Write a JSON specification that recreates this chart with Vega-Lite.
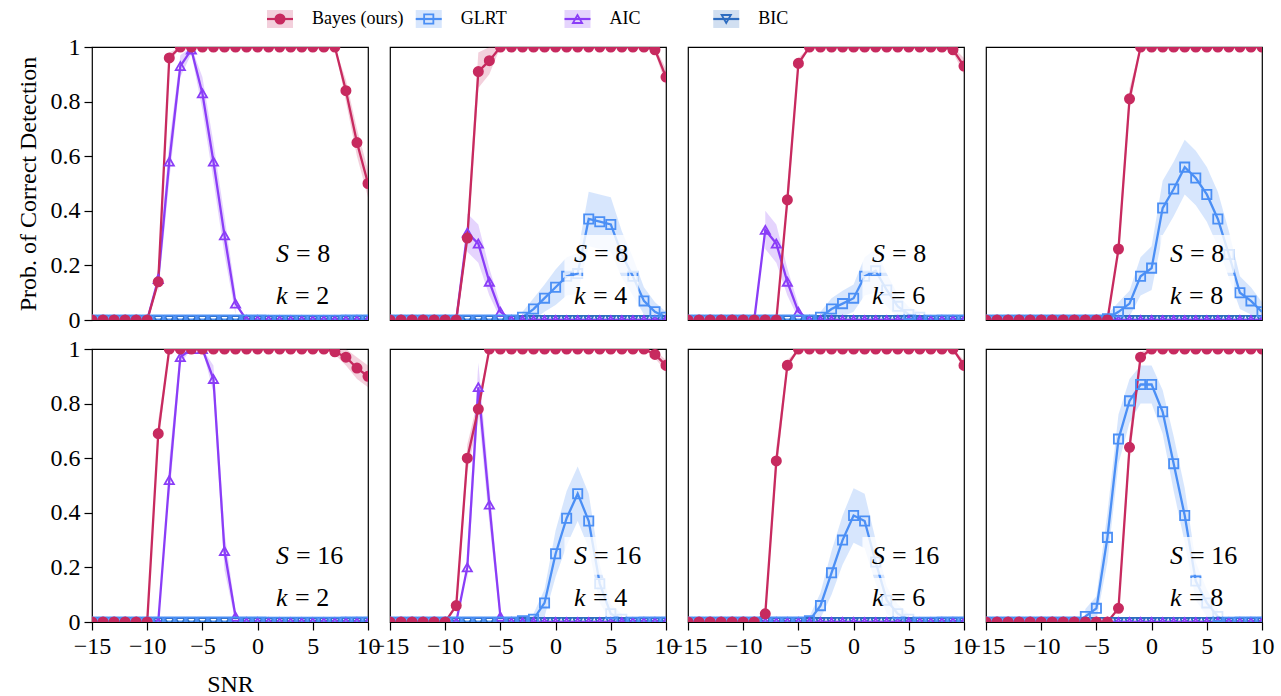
{
"$schema": "https://vega.github.io/schema/vega-lite/v6.json",
"padding": {"left": 15, "top": 6, "right": 5, "bottom": 0},
"bounds": "flush",
"spacing": 15,
"config": {
 "font": "Liberation Serif",
 "view": {"stroke": "#000", "strokeWidth": 1.2},
 "axis": {"domain": false, "grid": false, "labelFontSize": 24, "titleFontSize": 24, "titleFontWeight": "normal", "labelColor": "#000", "titleColor": "#000", "tickColor": "#000", "tickSize": 8, "tickWidth": 1.2, "labelPadding": 4, "labelFlush": false, "labelOverlap": false},
 "axisY": {"titlePadding": 10},
 "axisX": {"titlePadding": 14}
},
"data": {"values": [
{"S":8,"k":2,"m":"C","x":-15,"y":0},{"S":8,"k":2,"m":"C","x":-14,"y":0},{"S":8,"k":2,"m":"C","x":-13,"y":0},{"S":8,"k":2,"m":"C","x":-12,"y":0},{"S":8,"k":2,"m":"C","x":-11,"y":0},{"S":8,"k":2,"m":"C","x":-10,"y":0},{"S":8,"k":2,"m":"C","x":-9,"y":0},{"S":8,"k":2,"m":"C","x":-8,"y":0},{"S":8,"k":2,"m":"C","x":-7,"y":0},{"S":8,"k":2,"m":"C","x":-6,"y":0},{"S":8,"k":2,"m":"C","x":-5,"y":0},{"S":8,"k":2,"m":"C","x":-4,"y":0},{"S":8,"k":2,"m":"C","x":-3,"y":0},{"S":8,"k":2,"m":"C","x":-2,"y":0},{"S":8,"k":2,"m":"C","x":-1,"y":0},{"S":8,"k":2,"m":"C","x":0,"y":0},{"S":8,"k":2,"m":"C","x":1,"y":0},{"S":8,"k":2,"m":"C","x":2,"y":0},{"S":8,"k":2,"m":"C","x":3,"y":0},{"S":8,"k":2,"m":"C","x":4,"y":0},{"S":8,"k":2,"m":"C","x":5,"y":0},{"S":8,"k":2,"m":"C","x":6,"y":0},{"S":8,"k":2,"m":"C","x":7,"y":0},{"S":8,"k":2,"m":"C","x":8,"y":0},{"S":8,"k":2,"m":"C","x":9,"y":0},{"S":8,"k":2,"m":"C","x":10,"y":0},
{"S":8,"k":2,"m":"A","x":-15,"y":0},{"S":8,"k":2,"m":"A","x":-14,"y":0},{"S":8,"k":2,"m":"A","x":-13,"y":0},{"S":8,"k":2,"m":"A","x":-12,"y":0},{"S":8,"k":2,"m":"A","x":-11,"y":0},{"S":8,"k":2,"m":"A","x":-10,"y":0},{"S":8,"k":2,"m":"A","x":-9,"y":0.15,"lo":0.10,"hi":0.20},{"S":8,"k":2,"m":"A","x":-8,"y":0.58,"lo":0.51,"hi":0.65},{"S":8,"k":2,"m":"A","x":-7,"y":0.93,"lo":0.89,"hi":0.97},{"S":8,"k":2,"m":"A","x":-6,"y":0.99,"lo":0.975,"hi":1},{"S":8,"k":2,"m":"A","x":-5,"y":0.83,"lo":0.77,"hi":0.89},{"S":8,"k":2,"m":"A","x":-4,"y":0.58,"lo":0.51,"hi":0.65},{"S":8,"k":2,"m":"A","x":-3,"y":0.31,"lo":0.24,"hi":0.38},{"S":8,"k":2,"m":"A","x":-2,"y":0.06,"lo":0.02,"hi":0.10},{"S":8,"k":2,"m":"A","x":-1,"y":0},{"S":8,"k":2,"m":"A","x":0,"y":0},{"S":8,"k":2,"m":"A","x":1,"y":0},{"S":8,"k":2,"m":"A","x":2,"y":0},{"S":8,"k":2,"m":"A","x":3,"y":0},{"S":8,"k":2,"m":"A","x":4,"y":0},{"S":8,"k":2,"m":"A","x":5,"y":0},{"S":8,"k":2,"m":"A","x":6,"y":0},{"S":8,"k":2,"m":"A","x":7,"y":0},{"S":8,"k":2,"m":"A","x":8,"y":0},{"S":8,"k":2,"m":"A","x":9,"y":0},{"S":8,"k":2,"m":"A","x":10,"y":0},
{"S":8,"k":2,"m":"G","x":-15,"y":0},{"S":8,"k":2,"m":"G","x":-14,"y":0},{"S":8,"k":2,"m":"G","x":-13,"y":0},{"S":8,"k":2,"m":"G","x":-12,"y":0},{"S":8,"k":2,"m":"G","x":-11,"y":0},{"S":8,"k":2,"m":"G","x":-10,"y":0},{"S":8,"k":2,"m":"G","x":-9,"y":0},{"S":8,"k":2,"m":"G","x":-8,"y":0},{"S":8,"k":2,"m":"G","x":-7,"y":0},{"S":8,"k":2,"m":"G","x":-6,"y":0},{"S":8,"k":2,"m":"G","x":-5,"y":0},{"S":8,"k":2,"m":"G","x":-4,"y":0},{"S":8,"k":2,"m":"G","x":-3,"y":0},{"S":8,"k":2,"m":"G","x":-2,"y":0},{"S":8,"k":2,"m":"G","x":-1,"y":0},{"S":8,"k":2,"m":"G","x":0,"y":0},{"S":8,"k":2,"m":"G","x":1,"y":0},{"S":8,"k":2,"m":"G","x":2,"y":0},{"S":8,"k":2,"m":"G","x":3,"y":0},{"S":8,"k":2,"m":"G","x":4,"y":0},{"S":8,"k":2,"m":"G","x":5,"y":0},{"S":8,"k":2,"m":"G","x":6,"y":0},{"S":8,"k":2,"m":"G","x":7,"y":0},{"S":8,"k":2,"m":"G","x":8,"y":0},{"S":8,"k":2,"m":"G","x":9,"y":0},{"S":8,"k":2,"m":"G","x":10,"y":0},
{"S":8,"k":2,"m":"B","x":-15,"y":0},{"S":8,"k":2,"m":"B","x":-14,"y":0},{"S":8,"k":2,"m":"B","x":-13,"y":0},{"S":8,"k":2,"m":"B","x":-12,"y":0},{"S":8,"k":2,"m":"B","x":-11,"y":0},{"S":8,"k":2,"m":"B","x":-10,"y":0},{"S":8,"k":2,"m":"B","x":-9,"y":0.14,"lo":0.10,"hi":0.18},{"S":8,"k":2,"m":"B","x":-8,"y":0.96,"lo":0.94,"hi":0.98},{"S":8,"k":2,"m":"B","x":-7,"y":1,"lo":1,"hi":1},{"S":8,"k":2,"m":"B","x":-6,"y":1,"lo":1,"hi":1},{"S":8,"k":2,"m":"B","x":-5,"y":1,"lo":1,"hi":1},{"S":8,"k":2,"m":"B","x":-4,"y":1,"lo":1,"hi":1},{"S":8,"k":2,"m":"B","x":-3,"y":1,"lo":1,"hi":1},{"S":8,"k":2,"m":"B","x":-2,"y":1,"lo":1,"hi":1},{"S":8,"k":2,"m":"B","x":-1,"y":1,"lo":1,"hi":1},{"S":8,"k":2,"m":"B","x":0,"y":1,"lo":1,"hi":1},{"S":8,"k":2,"m":"B","x":1,"y":1,"lo":1,"hi":1},{"S":8,"k":2,"m":"B","x":2,"y":1,"lo":1,"hi":1},{"S":8,"k":2,"m":"B","x":3,"y":1,"lo":1,"hi":1},{"S":8,"k":2,"m":"B","x":4,"y":1,"lo":1,"hi":1},{"S":8,"k":2,"m":"B","x":5,"y":1,"lo":1,"hi":1},{"S":8,"k":2,"m":"B","x":6,"y":1,"lo":1,"hi":1},{"S":8,"k":2,"m":"B","x":7,"y":1,"lo":1,"hi":1},{"S":8,"k":2,"m":"B","x":8,"y":0.84,"lo":0.80,"hi":0.88},{"S":8,"k":2,"m":"B","x":9,"y":0.65,"lo":0.60,"hi":0.70},{"S":8,"k":2,"m":"B","x":10,"y":0.50,"lo":0.45,"hi":0.55},

{"S":8,"k":4,"m":"C","x":-15,"y":0},{"S":8,"k":4,"m":"C","x":-14,"y":0},{"S":8,"k":4,"m":"C","x":-13,"y":0},{"S":8,"k":4,"m":"C","x":-12,"y":0},{"S":8,"k":4,"m":"C","x":-11,"y":0},{"S":8,"k":4,"m":"C","x":-10,"y":0},{"S":8,"k":4,"m":"C","x":-9,"y":0},{"S":8,"k":4,"m":"C","x":-8,"y":0},{"S":8,"k":4,"m":"C","x":-7,"y":0},{"S":8,"k":4,"m":"C","x":-6,"y":0},{"S":8,"k":4,"m":"C","x":-5,"y":0},{"S":8,"k":4,"m":"C","x":-4,"y":0},{"S":8,"k":4,"m":"C","x":-3,"y":0},{"S":8,"k":4,"m":"C","x":-2,"y":0},{"S":8,"k":4,"m":"C","x":-1,"y":0},{"S":8,"k":4,"m":"C","x":0,"y":0},{"S":8,"k":4,"m":"C","x":1,"y":0},{"S":8,"k":4,"m":"C","x":2,"y":0},{"S":8,"k":4,"m":"C","x":3,"y":0},{"S":8,"k":4,"m":"C","x":4,"y":0},{"S":8,"k":4,"m":"C","x":5,"y":0},{"S":8,"k":4,"m":"C","x":6,"y":0},{"S":8,"k":4,"m":"C","x":7,"y":0},{"S":8,"k":4,"m":"C","x":8,"y":0},{"S":8,"k":4,"m":"C","x":9,"y":0},{"S":8,"k":4,"m":"C","x":10,"y":0},
{"S":8,"k":4,"m":"A","x":-15,"y":0},{"S":8,"k":4,"m":"A","x":-14,"y":0},{"S":8,"k":4,"m":"A","x":-13,"y":0},{"S":8,"k":4,"m":"A","x":-12,"y":0},{"S":8,"k":4,"m":"A","x":-11,"y":0},{"S":8,"k":4,"m":"A","x":-10,"y":0},{"S":8,"k":4,"m":"A","x":-9,"y":0},{"S":8,"k":4,"m":"A","x":-8,"y":0.32,"lo":0.25,"hi":0.39},{"S":8,"k":4,"m":"A","x":-7,"y":0.28,"lo":0.21,"hi":0.35},{"S":8,"k":4,"m":"A","x":-6,"y":0.14,"lo":0.09,"hi":0.19},{"S":8,"k":4,"m":"A","x":-5,"y":0.03,"lo":0.005,"hi":0.055},{"S":8,"k":4,"m":"A","x":-4,"y":0},{"S":8,"k":4,"m":"A","x":-3,"y":0},{"S":8,"k":4,"m":"A","x":-2,"y":0},{"S":8,"k":4,"m":"A","x":-1,"y":0},{"S":8,"k":4,"m":"A","x":0,"y":0},{"S":8,"k":4,"m":"A","x":1,"y":0},{"S":8,"k":4,"m":"A","x":2,"y":0},{"S":8,"k":4,"m":"A","x":3,"y":0},{"S":8,"k":4,"m":"A","x":4,"y":0},{"S":8,"k":4,"m":"A","x":5,"y":0},{"S":8,"k":4,"m":"A","x":6,"y":0},{"S":8,"k":4,"m":"A","x":7,"y":0},{"S":8,"k":4,"m":"A","x":8,"y":0},{"S":8,"k":4,"m":"A","x":9,"y":0},{"S":8,"k":4,"m":"A","x":10,"y":0},
{"S":8,"k":4,"m":"G","x":-15,"y":0},{"S":8,"k":4,"m":"G","x":-14,"y":0},{"S":8,"k":4,"m":"G","x":-13,"y":0},{"S":8,"k":4,"m":"G","x":-12,"y":0},{"S":8,"k":4,"m":"G","x":-11,"y":0},{"S":8,"k":4,"m":"G","x":-10,"y":0},{"S":8,"k":4,"m":"G","x":-9,"y":0},{"S":8,"k":4,"m":"G","x":-8,"y":0},{"S":8,"k":4,"m":"G","x":-7,"y":0},{"S":8,"k":4,"m":"G","x":-6,"y":0},{"S":8,"k":4,"m":"G","x":-5,"y":0},{"S":8,"k":4,"m":"G","x":-4,"y":0},{"S":8,"k":4,"m":"G","x":-3,"y":0.01,"lo":0,"hi":0.03},{"S":8,"k":4,"m":"G","x":-2,"y":0.04,"lo":0,"hi":0.08},{"S":8,"k":4,"m":"G","x":-1,"y":0.08,"lo":0.03,"hi":0.13},{"S":8,"k":4,"m":"G","x":0,"y":0.12,"lo":0.055,"hi":0.185},{"S":8,"k":4,"m":"G","x":1,"y":0.16,"lo":0.09,"hi":0.23},{"S":8,"k":4,"m":"G","x":2,"y":0.17,"lo":0.095,"hi":0.245},{"S":8,"k":4,"m":"G","x":3,"y":0.37,"lo":0.27,"hi":0.47},{"S":8,"k":4,"m":"G","x":4,"y":0.36,"lo":0.26,"hi":0.46},{"S":8,"k":4,"m":"G","x":5,"y":0.35,"lo":0.25,"hi":0.45},{"S":8,"k":4,"m":"G","x":6,"y":0.24,"lo":0.155,"hi":0.325},{"S":8,"k":4,"m":"G","x":7,"y":0.16,"lo":0.09,"hi":0.23},{"S":8,"k":4,"m":"G","x":8,"y":0.07,"lo":0.02,"hi":0.12},{"S":8,"k":4,"m":"G","x":9,"y":0.03,"lo":0,"hi":0.065},{"S":8,"k":4,"m":"G","x":10,"y":0.01,"lo":0,"hi":0.03},
{"S":8,"k":4,"m":"B","x":-15,"y":0},{"S":8,"k":4,"m":"B","x":-14,"y":0},{"S":8,"k":4,"m":"B","x":-13,"y":0},{"S":8,"k":4,"m":"B","x":-12,"y":0},{"S":8,"k":4,"m":"B","x":-11,"y":0},{"S":8,"k":4,"m":"B","x":-10,"y":0},{"S":8,"k":4,"m":"B","x":-9,"y":0},{"S":8,"k":4,"m":"B","x":-8,"y":0.30,"lo":0.25,"hi":0.35},{"S":8,"k":4,"m":"B","x":-7,"y":0.91,"lo":0.85,"hi":0.98},{"S":8,"k":4,"m":"B","x":-6,"y":0.95,"lo":0.90,"hi":1},{"S":8,"k":4,"m":"B","x":-5,"y":1,"lo":1,"hi":1},{"S":8,"k":4,"m":"B","x":-4,"y":1,"lo":1,"hi":1},{"S":8,"k":4,"m":"B","x":-3,"y":1,"lo":1,"hi":1},{"S":8,"k":4,"m":"B","x":-2,"y":1,"lo":1,"hi":1},{"S":8,"k":4,"m":"B","x":-1,"y":1,"lo":1,"hi":1},{"S":8,"k":4,"m":"B","x":0,"y":1,"lo":1,"hi":1},{"S":8,"k":4,"m":"B","x":1,"y":1,"lo":1,"hi":1},{"S":8,"k":4,"m":"B","x":2,"y":1,"lo":1,"hi":1},{"S":8,"k":4,"m":"B","x":3,"y":1,"lo":1,"hi":1},{"S":8,"k":4,"m":"B","x":4,"y":1,"lo":1,"hi":1},{"S":8,"k":4,"m":"B","x":5,"y":1,"lo":1,"hi":1},{"S":8,"k":4,"m":"B","x":6,"y":1,"lo":1,"hi":1},{"S":8,"k":4,"m":"B","x":7,"y":1,"lo":1,"hi":1},{"S":8,"k":4,"m":"B","x":8,"y":1,"lo":1,"hi":1},{"S":8,"k":4,"m":"B","x":9,"y":0.99,"lo":0.98,"hi":1},{"S":8,"k":4,"m":"B","x":10,"y":0.89,"lo":0.86,"hi":0.92},

{"S":8,"k":6,"m":"C","x":-15,"y":0},{"S":8,"k":6,"m":"C","x":-14,"y":0},{"S":8,"k":6,"m":"C","x":-13,"y":0},{"S":8,"k":6,"m":"C","x":-12,"y":0},{"S":8,"k":6,"m":"C","x":-11,"y":0},{"S":8,"k":6,"m":"C","x":-10,"y":0},{"S":8,"k":6,"m":"C","x":-9,"y":0},{"S":8,"k":6,"m":"C","x":-8,"y":0},{"S":8,"k":6,"m":"C","x":-7,"y":0},{"S":8,"k":6,"m":"C","x":-6,"y":0},{"S":8,"k":6,"m":"C","x":-5,"y":0},{"S":8,"k":6,"m":"C","x":-4,"y":0},{"S":8,"k":6,"m":"C","x":-3,"y":0},{"S":8,"k":6,"m":"C","x":-2,"y":0},{"S":8,"k":6,"m":"C","x":-1,"y":0},{"S":8,"k":6,"m":"C","x":0,"y":0},{"S":8,"k":6,"m":"C","x":1,"y":0},{"S":8,"k":6,"m":"C","x":2,"y":0},{"S":8,"k":6,"m":"C","x":3,"y":0},{"S":8,"k":6,"m":"C","x":4,"y":0},{"S":8,"k":6,"m":"C","x":5,"y":0},{"S":8,"k":6,"m":"C","x":6,"y":0},{"S":8,"k":6,"m":"C","x":7,"y":0},{"S":8,"k":6,"m":"C","x":8,"y":0},{"S":8,"k":6,"m":"C","x":9,"y":0},{"S":8,"k":6,"m":"C","x":10,"y":0},
{"S":8,"k":6,"m":"A","x":-15,"y":0},{"S":8,"k":6,"m":"A","x":-14,"y":0},{"S":8,"k":6,"m":"A","x":-13,"y":0},{"S":8,"k":6,"m":"A","x":-12,"y":0},{"S":8,"k":6,"m":"A","x":-11,"y":0},{"S":8,"k":6,"m":"A","x":-10,"y":0},{"S":8,"k":6,"m":"A","x":-9,"y":0},{"S":8,"k":6,"m":"A","x":-8,"y":0.33,"lo":0.26,"hi":0.40},{"S":8,"k":6,"m":"A","x":-7,"y":0.28,"lo":0.21,"hi":0.35},{"S":8,"k":6,"m":"A","x":-6,"y":0.14,"lo":0.09,"hi":0.19},{"S":8,"k":6,"m":"A","x":-5,"y":0.03,"lo":0.005,"hi":0.055},{"S":8,"k":6,"m":"A","x":-4,"y":0},{"S":8,"k":6,"m":"A","x":-3,"y":0},{"S":8,"k":6,"m":"A","x":-2,"y":0},{"S":8,"k":6,"m":"A","x":-1,"y":0},{"S":8,"k":6,"m":"A","x":0,"y":0},{"S":8,"k":6,"m":"A","x":1,"y":0},{"S":8,"k":6,"m":"A","x":2,"y":0},{"S":8,"k":6,"m":"A","x":3,"y":0},{"S":8,"k":6,"m":"A","x":4,"y":0},{"S":8,"k":6,"m":"A","x":5,"y":0},{"S":8,"k":6,"m":"A","x":6,"y":0},{"S":8,"k":6,"m":"A","x":7,"y":0},{"S":8,"k":6,"m":"A","x":8,"y":0},{"S":8,"k":6,"m":"A","x":9,"y":0},{"S":8,"k":6,"m":"A","x":10,"y":0},
{"S":8,"k":6,"m":"G","x":-15,"y":0},{"S":8,"k":6,"m":"G","x":-14,"y":0},{"S":8,"k":6,"m":"G","x":-13,"y":0},{"S":8,"k":6,"m":"G","x":-12,"y":0},{"S":8,"k":6,"m":"G","x":-11,"y":0},{"S":8,"k":6,"m":"G","x":-10,"y":0},{"S":8,"k":6,"m":"G","x":-9,"y":0},{"S":8,"k":6,"m":"G","x":-8,"y":0},{"S":8,"k":6,"m":"G","x":-7,"y":0},{"S":8,"k":6,"m":"G","x":-6,"y":0},{"S":8,"k":6,"m":"G","x":-5,"y":0},{"S":8,"k":6,"m":"G","x":-4,"y":0},{"S":8,"k":6,"m":"G","x":-3,"y":0.01,"lo":0,"hi":0.03},{"S":8,"k":6,"m":"G","x":-2,"y":0.04,"lo":0,"hi":0.08},{"S":8,"k":6,"m":"G","x":-1,"y":0.06,"lo":0.013,"hi":0.107},{"S":8,"k":6,"m":"G","x":0,"y":0.08,"lo":0.03,"hi":0.13},{"S":8,"k":6,"m":"G","x":1,"y":0.16,"lo":0.09,"hi":0.23},{"S":8,"k":6,"m":"G","x":2,"y":0.18,"lo":0.10,"hi":0.26},{"S":8,"k":6,"m":"G","x":3,"y":0.11,"lo":0.05,"hi":0.17},{"S":8,"k":6,"m":"G","x":4,"y":0.05,"lo":0.006,"hi":0.094},{"S":8,"k":6,"m":"G","x":5,"y":0.02,"lo":0,"hi":0.048},{"S":8,"k":6,"m":"G","x":6,"y":0.01,"lo":0,"hi":0.03},{"S":8,"k":6,"m":"G","x":7,"y":0},{"S":8,"k":6,"m":"G","x":8,"y":0},{"S":8,"k":6,"m":"G","x":9,"y":0},{"S":8,"k":6,"m":"G","x":10,"y":0},
{"S":8,"k":6,"m":"B","x":-15,"y":0},{"S":8,"k":6,"m":"B","x":-14,"y":0},{"S":8,"k":6,"m":"B","x":-13,"y":0},{"S":8,"k":6,"m":"B","x":-12,"y":0},{"S":8,"k":6,"m":"B","x":-11,"y":0},{"S":8,"k":6,"m":"B","x":-10,"y":0},{"S":8,"k":6,"m":"B","x":-9,"y":0},{"S":8,"k":6,"m":"B","x":-8,"y":0},{"S":8,"k":6,"m":"B","x":-7,"y":0},{"S":8,"k":6,"m":"B","x":-6,"y":0.44,"lo":0.39,"hi":0.49},{"S":8,"k":6,"m":"B","x":-5,"y":0.94,"lo":0.92,"hi":0.96},{"S":8,"k":6,"m":"B","x":-4,"y":1,"lo":1,"hi":1},{"S":8,"k":6,"m":"B","x":-3,"y":1,"lo":1,"hi":1},{"S":8,"k":6,"m":"B","x":-2,"y":1,"lo":1,"hi":1},{"S":8,"k":6,"m":"B","x":-1,"y":1,"lo":1,"hi":1},{"S":8,"k":6,"m":"B","x":0,"y":1,"lo":1,"hi":1},{"S":8,"k":6,"m":"B","x":1,"y":1,"lo":1,"hi":1},{"S":8,"k":6,"m":"B","x":2,"y":1,"lo":1,"hi":1},{"S":8,"k":6,"m":"B","x":3,"y":1,"lo":1,"hi":1},{"S":8,"k":6,"m":"B","x":4,"y":1,"lo":1,"hi":1},{"S":8,"k":6,"m":"B","x":5,"y":1,"lo":1,"hi":1},{"S":8,"k":6,"m":"B","x":6,"y":1,"lo":1,"hi":1},{"S":8,"k":6,"m":"B","x":7,"y":1,"lo":1,"hi":1},{"S":8,"k":6,"m":"B","x":8,"y":1,"lo":1,"hi":1},{"S":8,"k":6,"m":"B","x":9,"y":0.99,"lo":0.98,"hi":1},{"S":8,"k":6,"m":"B","x":10,"y":0.93,"lo":0.90,"hi":0.96},

{"S":8,"k":8,"m":"C","x":-15,"y":0},{"S":8,"k":8,"m":"C","x":-14,"y":0},{"S":8,"k":8,"m":"C","x":-13,"y":0},{"S":8,"k":8,"m":"C","x":-12,"y":0},{"S":8,"k":8,"m":"C","x":-11,"y":0},{"S":8,"k":8,"m":"C","x":-10,"y":0},{"S":8,"k":8,"m":"C","x":-9,"y":0},{"S":8,"k":8,"m":"C","x":-8,"y":0},{"S":8,"k":8,"m":"C","x":-7,"y":0},{"S":8,"k":8,"m":"C","x":-6,"y":0},{"S":8,"k":8,"m":"C","x":-5,"y":0},{"S":8,"k":8,"m":"C","x":-4,"y":0},{"S":8,"k":8,"m":"C","x":-3,"y":0},{"S":8,"k":8,"m":"C","x":-2,"y":0},{"S":8,"k":8,"m":"C","x":-1,"y":0},{"S":8,"k":8,"m":"C","x":0,"y":0},{"S":8,"k":8,"m":"C","x":1,"y":0},{"S":8,"k":8,"m":"C","x":2,"y":0},{"S":8,"k":8,"m":"C","x":3,"y":0},{"S":8,"k":8,"m":"C","x":4,"y":0},{"S":8,"k":8,"m":"C","x":5,"y":0},{"S":8,"k":8,"m":"C","x":6,"y":0},{"S":8,"k":8,"m":"C","x":7,"y":0},{"S":8,"k":8,"m":"C","x":8,"y":0},{"S":8,"k":8,"m":"C","x":9,"y":0},{"S":8,"k":8,"m":"C","x":10,"y":0},
{"S":8,"k":8,"m":"A","x":-15,"y":0},{"S":8,"k":8,"m":"A","x":-14,"y":0},{"S":8,"k":8,"m":"A","x":-13,"y":0},{"S":8,"k":8,"m":"A","x":-12,"y":0},{"S":8,"k":8,"m":"A","x":-11,"y":0},{"S":8,"k":8,"m":"A","x":-10,"y":0},{"S":8,"k":8,"m":"A","x":-9,"y":0},{"S":8,"k":8,"m":"A","x":-8,"y":0},{"S":8,"k":8,"m":"A","x":-7,"y":0},{"S":8,"k":8,"m":"A","x":-6,"y":0},{"S":8,"k":8,"m":"A","x":-5,"y":0},{"S":8,"k":8,"m":"A","x":-4,"y":0},{"S":8,"k":8,"m":"A","x":-3,"y":0},{"S":8,"k":8,"m":"A","x":-2,"y":0},{"S":8,"k":8,"m":"A","x":-1,"y":0},{"S":8,"k":8,"m":"A","x":0,"y":0},{"S":8,"k":8,"m":"A","x":1,"y":0},{"S":8,"k":8,"m":"A","x":2,"y":0},{"S":8,"k":8,"m":"A","x":3,"y":0},{"S":8,"k":8,"m":"A","x":4,"y":0},{"S":8,"k":8,"m":"A","x":5,"y":0},{"S":8,"k":8,"m":"A","x":6,"y":0},{"S":8,"k":8,"m":"A","x":7,"y":0},{"S":8,"k":8,"m":"A","x":8,"y":0},{"S":8,"k":8,"m":"A","x":9,"y":0},{"S":8,"k":8,"m":"A","x":10,"y":0},
{"S":8,"k":8,"m":"G","x":-15,"y":0},{"S":8,"k":8,"m":"G","x":-14,"y":0},{"S":8,"k":8,"m":"G","x":-13,"y":0},{"S":8,"k":8,"m":"G","x":-12,"y":0},{"S":8,"k":8,"m":"G","x":-11,"y":0},{"S":8,"k":8,"m":"G","x":-10,"y":0},{"S":8,"k":8,"m":"G","x":-9,"y":0},{"S":8,"k":8,"m":"G","x":-8,"y":0},{"S":8,"k":8,"m":"G","x":-7,"y":0},{"S":8,"k":8,"m":"G","x":-6,"y":0},{"S":8,"k":8,"m":"G","x":-5,"y":0},{"S":8,"k":8,"m":"G","x":-4,"y":0.005,"lo":0,"hi":0.02},{"S":8,"k":8,"m":"G","x":-3,"y":0.03,"lo":0,"hi":0.065},{"S":8,"k":8,"m":"G","x":-2,"y":0.06,"lo":0.013,"hi":0.107},{"S":8,"k":8,"m":"G","x":-1,"y":0.16,"lo":0.09,"hi":0.23},{"S":8,"k":8,"m":"G","x":0,"y":0.19,"lo":0.11,"hi":0.27},{"S":8,"k":8,"m":"G","x":1,"y":0.41,"lo":0.31,"hi":0.51},{"S":8,"k":8,"m":"G","x":2,"y":0.48,"lo":0.38,"hi":0.58},{"S":8,"k":8,"m":"G","x":3,"y":0.56,"lo":0.46,"hi":0.66},{"S":8,"k":8,"m":"G","x":4,"y":0.52,"lo":0.42,"hi":0.62},{"S":8,"k":8,"m":"G","x":5,"y":0.46,"lo":0.36,"hi":0.56},{"S":8,"k":8,"m":"G","x":6,"y":0.37,"lo":0.27,"hi":0.47},{"S":8,"k":8,"m":"G","x":7,"y":0.24,"lo":0.155,"hi":0.325},{"S":8,"k":8,"m":"G","x":8,"y":0.10,"lo":0.04,"hi":0.16},{"S":8,"k":8,"m":"G","x":9,"y":0.07,"lo":0.02,"hi":0.12},{"S":8,"k":8,"m":"G","x":10,"y":0.03,"lo":0,"hi":0.065},
{"S":8,"k":8,"m":"B","x":-15,"y":0},{"S":8,"k":8,"m":"B","x":-14,"y":0},{"S":8,"k":8,"m":"B","x":-13,"y":0},{"S":8,"k":8,"m":"B","x":-12,"y":0},{"S":8,"k":8,"m":"B","x":-11,"y":0},{"S":8,"k":8,"m":"B","x":-10,"y":0},{"S":8,"k":8,"m":"B","x":-9,"y":0},{"S":8,"k":8,"m":"B","x":-8,"y":0},{"S":8,"k":8,"m":"B","x":-7,"y":0},{"S":8,"k":8,"m":"B","x":-6,"y":0},{"S":8,"k":8,"m":"B","x":-5,"y":0},{"S":8,"k":8,"m":"B","x":-4,"y":0},{"S":8,"k":8,"m":"B","x":-3,"y":0.26,"lo":0.22,"hi":0.30},{"S":8,"k":8,"m":"B","x":-2,"y":0.81,"lo":0.77,"hi":0.85},{"S":8,"k":8,"m":"B","x":-1,"y":1,"lo":1,"hi":1},{"S":8,"k":8,"m":"B","x":0,"y":1,"lo":1,"hi":1},{"S":8,"k":8,"m":"B","x":1,"y":1,"lo":1,"hi":1},{"S":8,"k":8,"m":"B","x":2,"y":1,"lo":1,"hi":1},{"S":8,"k":8,"m":"B","x":3,"y":1,"lo":1,"hi":1},{"S":8,"k":8,"m":"B","x":4,"y":1,"lo":1,"hi":1},{"S":8,"k":8,"m":"B","x":5,"y":1,"lo":1,"hi":1},{"S":8,"k":8,"m":"B","x":6,"y":1,"lo":1,"hi":1},{"S":8,"k":8,"m":"B","x":7,"y":1,"lo":1,"hi":1},{"S":8,"k":8,"m":"B","x":8,"y":1,"lo":1,"hi":1},{"S":8,"k":8,"m":"B","x":9,"y":1,"lo":1,"hi":1},{"S":8,"k":8,"m":"B","x":10,"y":1,"lo":1,"hi":1},

{"S":16,"k":2,"m":"C","x":-15,"y":0},{"S":16,"k":2,"m":"C","x":-14,"y":0},{"S":16,"k":2,"m":"C","x":-13,"y":0},{"S":16,"k":2,"m":"C","x":-12,"y":0},{"S":16,"k":2,"m":"C","x":-11,"y":0},{"S":16,"k":2,"m":"C","x":-10,"y":0},{"S":16,"k":2,"m":"C","x":-9,"y":0},{"S":16,"k":2,"m":"C","x":-8,"y":0},{"S":16,"k":2,"m":"C","x":-7,"y":0},{"S":16,"k":2,"m":"C","x":-6,"y":0},{"S":16,"k":2,"m":"C","x":-5,"y":0},{"S":16,"k":2,"m":"C","x":-4,"y":0},{"S":16,"k":2,"m":"C","x":-3,"y":0},{"S":16,"k":2,"m":"C","x":-2,"y":0},{"S":16,"k":2,"m":"C","x":-1,"y":0},{"S":16,"k":2,"m":"C","x":0,"y":0},{"S":16,"k":2,"m":"C","x":1,"y":0},{"S":16,"k":2,"m":"C","x":2,"y":0},{"S":16,"k":2,"m":"C","x":3,"y":0},{"S":16,"k":2,"m":"C","x":4,"y":0},{"S":16,"k":2,"m":"C","x":5,"y":0},{"S":16,"k":2,"m":"C","x":6,"y":0},{"S":16,"k":2,"m":"C","x":7,"y":0},{"S":16,"k":2,"m":"C","x":8,"y":0},{"S":16,"k":2,"m":"C","x":9,"y":0},{"S":16,"k":2,"m":"C","x":10,"y":0},
{"S":16,"k":2,"m":"A","x":-15,"y":0},{"S":16,"k":2,"m":"A","x":-14,"y":0},{"S":16,"k":2,"m":"A","x":-13,"y":0},{"S":16,"k":2,"m":"A","x":-12,"y":0},{"S":16,"k":2,"m":"A","x":-11,"y":0},{"S":16,"k":2,"m":"A","x":-10,"y":0},{"S":16,"k":2,"m":"A","x":-9,"y":0},{"S":16,"k":2,"m":"A","x":-8,"y":0.52,"lo":0.445,"hi":0.595},{"S":16,"k":2,"m":"A","x":-7,"y":0.97,"lo":0.945,"hi":0.995},{"S":16,"k":2,"m":"A","x":-6,"y":1,"lo":1,"hi":1},{"S":16,"k":2,"m":"A","x":-5,"y":1,"lo":1,"hi":1},{"S":16,"k":2,"m":"A","x":-4,"y":0.89,"lo":0.84,"hi":0.94},{"S":16,"k":2,"m":"A","x":-3,"y":0.26,"lo":0.19,"hi":0.33},{"S":16,"k":2,"m":"A","x":-2,"y":0.02,"lo":0,"hi":0.04},{"S":16,"k":2,"m":"A","x":-1,"y":0},{"S":16,"k":2,"m":"A","x":0,"y":0},{"S":16,"k":2,"m":"A","x":1,"y":0},{"S":16,"k":2,"m":"A","x":2,"y":0},{"S":16,"k":2,"m":"A","x":3,"y":0},{"S":16,"k":2,"m":"A","x":4,"y":0},{"S":16,"k":2,"m":"A","x":5,"y":0},{"S":16,"k":2,"m":"A","x":6,"y":0},{"S":16,"k":2,"m":"A","x":7,"y":0},{"S":16,"k":2,"m":"A","x":8,"y":0},{"S":16,"k":2,"m":"A","x":9,"y":0},{"S":16,"k":2,"m":"A","x":10,"y":0},
{"S":16,"k":2,"m":"G","x":-15,"y":0},{"S":16,"k":2,"m":"G","x":-14,"y":0},{"S":16,"k":2,"m":"G","x":-13,"y":0},{"S":16,"k":2,"m":"G","x":-12,"y":0},{"S":16,"k":2,"m":"G","x":-11,"y":0},{"S":16,"k":2,"m":"G","x":-10,"y":0},{"S":16,"k":2,"m":"G","x":-9,"y":0},{"S":16,"k":2,"m":"G","x":-8,"y":0},{"S":16,"k":2,"m":"G","x":-7,"y":0},{"S":16,"k":2,"m":"G","x":-6,"y":0},{"S":16,"k":2,"m":"G","x":-5,"y":0},{"S":16,"k":2,"m":"G","x":-4,"y":0},{"S":16,"k":2,"m":"G","x":-3,"y":0},{"S":16,"k":2,"m":"G","x":-2,"y":0},{"S":16,"k":2,"m":"G","x":-1,"y":0},{"S":16,"k":2,"m":"G","x":0,"y":0},{"S":16,"k":2,"m":"G","x":1,"y":0},{"S":16,"k":2,"m":"G","x":2,"y":0},{"S":16,"k":2,"m":"G","x":3,"y":0},{"S":16,"k":2,"m":"G","x":4,"y":0},{"S":16,"k":2,"m":"G","x":5,"y":0},{"S":16,"k":2,"m":"G","x":6,"y":0},{"S":16,"k":2,"m":"G","x":7,"y":0},{"S":16,"k":2,"m":"G","x":8,"y":0},{"S":16,"k":2,"m":"G","x":9,"y":0},{"S":16,"k":2,"m":"G","x":10,"y":0},
{"S":16,"k":2,"m":"B","x":-15,"y":0},{"S":16,"k":2,"m":"B","x":-14,"y":0},{"S":16,"k":2,"m":"B","x":-13,"y":0},{"S":16,"k":2,"m":"B","x":-12,"y":0},{"S":16,"k":2,"m":"B","x":-11,"y":0},{"S":16,"k":2,"m":"B","x":-10,"y":0},{"S":16,"k":2,"m":"B","x":-9,"y":0.69,"lo":0.64,"hi":0.74},{"S":16,"k":2,"m":"B","x":-8,"y":1,"lo":1,"hi":1},{"S":16,"k":2,"m":"B","x":-7,"y":1,"lo":1,"hi":1},{"S":16,"k":2,"m":"B","x":-6,"y":1,"lo":1,"hi":1},{"S":16,"k":2,"m":"B","x":-5,"y":1,"lo":1,"hi":1},{"S":16,"k":2,"m":"B","x":-4,"y":1,"lo":1,"hi":1},{"S":16,"k":2,"m":"B","x":-3,"y":1,"lo":1,"hi":1},{"S":16,"k":2,"m":"B","x":-2,"y":1,"lo":1,"hi":1},{"S":16,"k":2,"m":"B","x":-1,"y":1,"lo":1,"hi":1},{"S":16,"k":2,"m":"B","x":0,"y":1,"lo":1,"hi":1},{"S":16,"k":2,"m":"B","x":1,"y":1,"lo":1,"hi":1},{"S":16,"k":2,"m":"B","x":2,"y":1,"lo":1,"hi":1},{"S":16,"k":2,"m":"B","x":3,"y":1,"lo":1,"hi":1},{"S":16,"k":2,"m":"B","x":4,"y":1,"lo":1,"hi":1},{"S":16,"k":2,"m":"B","x":5,"y":1,"lo":1,"hi":1},{"S":16,"k":2,"m":"B","x":6,"y":1,"lo":1,"hi":1},{"S":16,"k":2,"m":"B","x":7,"y":0.99,"lo":0.98,"hi":1},{"S":16,"k":2,"m":"B","x":8,"y":0.97,"lo":0.94,"hi":1},{"S":16,"k":2,"m":"B","x":9,"y":0.93,"lo":0.89,"hi":0.97},{"S":16,"k":2,"m":"B","x":10,"y":0.90,"lo":0.86,"hi":0.94},

{"S":16,"k":4,"m":"C","x":-15,"y":0},{"S":16,"k":4,"m":"C","x":-14,"y":0},{"S":16,"k":4,"m":"C","x":-13,"y":0},{"S":16,"k":4,"m":"C","x":-12,"y":0},{"S":16,"k":4,"m":"C","x":-11,"y":0},{"S":16,"k":4,"m":"C","x":-10,"y":0},{"S":16,"k":4,"m":"C","x":-9,"y":0},{"S":16,"k":4,"m":"C","x":-8,"y":0},{"S":16,"k":4,"m":"C","x":-7,"y":0},{"S":16,"k":4,"m":"C","x":-6,"y":0},{"S":16,"k":4,"m":"C","x":-5,"y":0},{"S":16,"k":4,"m":"C","x":-4,"y":0},{"S":16,"k":4,"m":"C","x":-3,"y":0},{"S":16,"k":4,"m":"C","x":-2,"y":0},{"S":16,"k":4,"m":"C","x":-1,"y":0},{"S":16,"k":4,"m":"C","x":0,"y":0},{"S":16,"k":4,"m":"C","x":1,"y":0},{"S":16,"k":4,"m":"C","x":2,"y":0},{"S":16,"k":4,"m":"C","x":3,"y":0},{"S":16,"k":4,"m":"C","x":4,"y":0},{"S":16,"k":4,"m":"C","x":5,"y":0},{"S":16,"k":4,"m":"C","x":6,"y":0},{"S":16,"k":4,"m":"C","x":7,"y":0},{"S":16,"k":4,"m":"C","x":8,"y":0},{"S":16,"k":4,"m":"C","x":9,"y":0},{"S":16,"k":4,"m":"C","x":10,"y":0},
{"S":16,"k":4,"m":"A","x":-15,"y":0},{"S":16,"k":4,"m":"A","x":-14,"y":0},{"S":16,"k":4,"m":"A","x":-13,"y":0},{"S":16,"k":4,"m":"A","x":-12,"y":0},{"S":16,"k":4,"m":"A","x":-11,"y":0},{"S":16,"k":4,"m":"A","x":-10,"y":0},{"S":16,"k":4,"m":"A","x":-9,"y":0},{"S":16,"k":4,"m":"A","x":-8,"y":0.20,"lo":0.14,"hi":0.26},{"S":16,"k":4,"m":"A","x":-7,"y":0.86,"lo":0.78,"hi":0.95},{"S":16,"k":4,"m":"A","x":-6,"y":0.43,"lo":0.36,"hi":0.50},{"S":16,"k":4,"m":"A","x":-5,"y":0.02,"lo":0,"hi":0.04},{"S":16,"k":4,"m":"A","x":-4,"y":0},{"S":16,"k":4,"m":"A","x":-3,"y":0},{"S":16,"k":4,"m":"A","x":-2,"y":0},{"S":16,"k":4,"m":"A","x":-1,"y":0},{"S":16,"k":4,"m":"A","x":0,"y":0},{"S":16,"k":4,"m":"A","x":1,"y":0},{"S":16,"k":4,"m":"A","x":2,"y":0},{"S":16,"k":4,"m":"A","x":3,"y":0},{"S":16,"k":4,"m":"A","x":4,"y":0},{"S":16,"k":4,"m":"A","x":5,"y":0},{"S":16,"k":4,"m":"A","x":6,"y":0},{"S":16,"k":4,"m":"A","x":7,"y":0},{"S":16,"k":4,"m":"A","x":8,"y":0},{"S":16,"k":4,"m":"A","x":9,"y":0},{"S":16,"k":4,"m":"A","x":10,"y":0},
{"S":16,"k":4,"m":"G","x":-15,"y":0},{"S":16,"k":4,"m":"G","x":-14,"y":0},{"S":16,"k":4,"m":"G","x":-13,"y":0},{"S":16,"k":4,"m":"G","x":-12,"y":0},{"S":16,"k":4,"m":"G","x":-11,"y":0},{"S":16,"k":4,"m":"G","x":-10,"y":0},{"S":16,"k":4,"m":"G","x":-9,"y":0},{"S":16,"k":4,"m":"G","x":-8,"y":0},{"S":16,"k":4,"m":"G","x":-7,"y":0},{"S":16,"k":4,"m":"G","x":-6,"y":0},{"S":16,"k":4,"m":"G","x":-5,"y":0},{"S":16,"k":4,"m":"G","x":-4,"y":0},{"S":16,"k":4,"m":"G","x":-3,"y":0.005,"lo":0,"hi":0.02},{"S":16,"k":4,"m":"G","x":-2,"y":0.01,"lo":0,"hi":0.03},{"S":16,"k":4,"m":"G","x":-1,"y":0.07,"lo":0.02,"hi":0.12},{"S":16,"k":4,"m":"G","x":0,"y":0.25,"lo":0.165,"hi":0.335},{"S":16,"k":4,"m":"G","x":1,"y":0.38,"lo":0.28,"hi":0.48},{"S":16,"k":4,"m":"G","x":2,"y":0.47,"lo":0.37,"hi":0.57},{"S":16,"k":4,"m":"G","x":3,"y":0.37,"lo":0.27,"hi":0.47},{"S":16,"k":4,"m":"G","x":4,"y":0.14,"lo":0.07,"hi":0.21},{"S":16,"k":4,"m":"G","x":5,"y":0.03,"lo":0,"hi":0.065},{"S":16,"k":4,"m":"G","x":6,"y":0.01,"lo":0,"hi":0.03},{"S":16,"k":4,"m":"G","x":7,"y":0},{"S":16,"k":4,"m":"G","x":8,"y":0},{"S":16,"k":4,"m":"G","x":9,"y":0},{"S":16,"k":4,"m":"G","x":10,"y":0},
{"S":16,"k":4,"m":"B","x":-15,"y":0},{"S":16,"k":4,"m":"B","x":-14,"y":0},{"S":16,"k":4,"m":"B","x":-13,"y":0},{"S":16,"k":4,"m":"B","x":-12,"y":0},{"S":16,"k":4,"m":"B","x":-11,"y":0},{"S":16,"k":4,"m":"B","x":-10,"y":0},{"S":16,"k":4,"m":"B","x":-9,"y":0.06,"lo":0.035,"hi":0.085},{"S":16,"k":4,"m":"B","x":-8,"y":0.60,"lo":0.55,"hi":0.65},{"S":16,"k":4,"m":"B","x":-7,"y":0.78,"lo":0.74,"hi":0.82},{"S":16,"k":4,"m":"B","x":-6,"y":1,"lo":1,"hi":1},{"S":16,"k":4,"m":"B","x":-5,"y":1,"lo":1,"hi":1},{"S":16,"k":4,"m":"B","x":-4,"y":1,"lo":1,"hi":1},{"S":16,"k":4,"m":"B","x":-3,"y":1,"lo":1,"hi":1},{"S":16,"k":4,"m":"B","x":-2,"y":1,"lo":1,"hi":1},{"S":16,"k":4,"m":"B","x":-1,"y":1,"lo":1,"hi":1},{"S":16,"k":4,"m":"B","x":0,"y":1,"lo":1,"hi":1},{"S":16,"k":4,"m":"B","x":1,"y":1,"lo":1,"hi":1},{"S":16,"k":4,"m":"B","x":2,"y":1,"lo":1,"hi":1},{"S":16,"k":4,"m":"B","x":3,"y":1,"lo":1,"hi":1},{"S":16,"k":4,"m":"B","x":4,"y":1,"lo":1,"hi":1},{"S":16,"k":4,"m":"B","x":5,"y":1,"lo":1,"hi":1},{"S":16,"k":4,"m":"B","x":6,"y":1,"lo":1,"hi":1},{"S":16,"k":4,"m":"B","x":7,"y":1,"lo":1,"hi":1},{"S":16,"k":4,"m":"B","x":8,"y":1,"lo":1,"hi":1},{"S":16,"k":4,"m":"B","x":9,"y":0.98,"lo":0.965,"hi":0.995},{"S":16,"k":4,"m":"B","x":10,"y":0.94,"lo":0.92,"hi":0.96},

{"S":16,"k":6,"m":"C","x":-15,"y":0},{"S":16,"k":6,"m":"C","x":-14,"y":0},{"S":16,"k":6,"m":"C","x":-13,"y":0},{"S":16,"k":6,"m":"C","x":-12,"y":0},{"S":16,"k":6,"m":"C","x":-11,"y":0},{"S":16,"k":6,"m":"C","x":-10,"y":0},{"S":16,"k":6,"m":"C","x":-9,"y":0},{"S":16,"k":6,"m":"C","x":-8,"y":0},{"S":16,"k":6,"m":"C","x":-7,"y":0},{"S":16,"k":6,"m":"C","x":-6,"y":0},{"S":16,"k":6,"m":"C","x":-5,"y":0},{"S":16,"k":6,"m":"C","x":-4,"y":0},{"S":16,"k":6,"m":"C","x":-3,"y":0},{"S":16,"k":6,"m":"C","x":-2,"y":0},{"S":16,"k":6,"m":"C","x":-1,"y":0},{"S":16,"k":6,"m":"C","x":0,"y":0},{"S":16,"k":6,"m":"C","x":1,"y":0},{"S":16,"k":6,"m":"C","x":2,"y":0},{"S":16,"k":6,"m":"C","x":3,"y":0},{"S":16,"k":6,"m":"C","x":4,"y":0},{"S":16,"k":6,"m":"C","x":5,"y":0},{"S":16,"k":6,"m":"C","x":6,"y":0},{"S":16,"k":6,"m":"C","x":7,"y":0},{"S":16,"k":6,"m":"C","x":8,"y":0},{"S":16,"k":6,"m":"C","x":9,"y":0},{"S":16,"k":6,"m":"C","x":10,"y":0},
{"S":16,"k":6,"m":"A","x":-15,"y":0},{"S":16,"k":6,"m":"A","x":-14,"y":0},{"S":16,"k":6,"m":"A","x":-13,"y":0},{"S":16,"k":6,"m":"A","x":-12,"y":0},{"S":16,"k":6,"m":"A","x":-11,"y":0},{"S":16,"k":6,"m":"A","x":-10,"y":0},{"S":16,"k":6,"m":"A","x":-9,"y":0},{"S":16,"k":6,"m":"A","x":-8,"y":0},{"S":16,"k":6,"m":"A","x":-7,"y":0},{"S":16,"k":6,"m":"A","x":-6,"y":0},{"S":16,"k":6,"m":"A","x":-5,"y":0},{"S":16,"k":6,"m":"A","x":-4,"y":0},{"S":16,"k":6,"m":"A","x":-3,"y":0},{"S":16,"k":6,"m":"A","x":-2,"y":0},{"S":16,"k":6,"m":"A","x":-1,"y":0},{"S":16,"k":6,"m":"A","x":0,"y":0},{"S":16,"k":6,"m":"A","x":1,"y":0},{"S":16,"k":6,"m":"A","x":2,"y":0},{"S":16,"k":6,"m":"A","x":3,"y":0},{"S":16,"k":6,"m":"A","x":4,"y":0},{"S":16,"k":6,"m":"A","x":5,"y":0},{"S":16,"k":6,"m":"A","x":6,"y":0},{"S":16,"k":6,"m":"A","x":7,"y":0},{"S":16,"k":6,"m":"A","x":8,"y":0},{"S":16,"k":6,"m":"A","x":9,"y":0},{"S":16,"k":6,"m":"A","x":10,"y":0},
{"S":16,"k":6,"m":"G","x":-15,"y":0},{"S":16,"k":6,"m":"G","x":-14,"y":0},{"S":16,"k":6,"m":"G","x":-13,"y":0},{"S":16,"k":6,"m":"G","x":-12,"y":0},{"S":16,"k":6,"m":"G","x":-11,"y":0},{"S":16,"k":6,"m":"G","x":-10,"y":0},{"S":16,"k":6,"m":"G","x":-9,"y":0},{"S":16,"k":6,"m":"G","x":-8,"y":0},{"S":16,"k":6,"m":"G","x":-7,"y":0},{"S":16,"k":6,"m":"G","x":-6,"y":0},{"S":16,"k":6,"m":"G","x":-5,"y":0},{"S":16,"k":6,"m":"G","x":-4,"y":0.005,"lo":0,"hi":0.02},{"S":16,"k":6,"m":"G","x":-3,"y":0.06,"lo":0.013,"hi":0.107},{"S":16,"k":6,"m":"G","x":-2,"y":0.18,"lo":0.10,"hi":0.26},{"S":16,"k":6,"m":"G","x":-1,"y":0.30,"lo":0.21,"hi":0.39},{"S":16,"k":6,"m":"G","x":0,"y":0.39,"lo":0.29,"hi":0.49},{"S":16,"k":6,"m":"G","x":1,"y":0.37,"lo":0.27,"hi":0.47},{"S":16,"k":6,"m":"G","x":2,"y":0.22,"lo":0.14,"hi":0.30},{"S":16,"k":6,"m":"G","x":3,"y":0.08,"lo":0.03,"hi":0.13},{"S":16,"k":6,"m":"G","x":4,"y":0.03,"lo":0,"hi":0.065},{"S":16,"k":6,"m":"G","x":5,"y":0.01,"lo":0,"hi":0.03},{"S":16,"k":6,"m":"G","x":6,"y":0},{"S":16,"k":6,"m":"G","x":7,"y":0},{"S":16,"k":6,"m":"G","x":8,"y":0},{"S":16,"k":6,"m":"G","x":9,"y":0},{"S":16,"k":6,"m":"G","x":10,"y":0},
{"S":16,"k":6,"m":"B","x":-15,"y":0},{"S":16,"k":6,"m":"B","x":-14,"y":0},{"S":16,"k":6,"m":"B","x":-13,"y":0},{"S":16,"k":6,"m":"B","x":-12,"y":0},{"S":16,"k":6,"m":"B","x":-11,"y":0},{"S":16,"k":6,"m":"B","x":-10,"y":0},{"S":16,"k":6,"m":"B","x":-9,"y":0},{"S":16,"k":6,"m":"B","x":-8,"y":0.03,"lo":0.013,"hi":0.047},{"S":16,"k":6,"m":"B","x":-7,"y":0.59,"lo":0.54,"hi":0.64},{"S":16,"k":6,"m":"B","x":-6,"y":0.94,"lo":0.92,"hi":0.96},{"S":16,"k":6,"m":"B","x":-5,"y":1,"lo":1,"hi":1},{"S":16,"k":6,"m":"B","x":-4,"y":1,"lo":1,"hi":1},{"S":16,"k":6,"m":"B","x":-3,"y":1,"lo":1,"hi":1},{"S":16,"k":6,"m":"B","x":-2,"y":1,"lo":1,"hi":1},{"S":16,"k":6,"m":"B","x":-1,"y":1,"lo":1,"hi":1},{"S":16,"k":6,"m":"B","x":0,"y":1,"lo":1,"hi":1},{"S":16,"k":6,"m":"B","x":1,"y":1,"lo":1,"hi":1},{"S":16,"k":6,"m":"B","x":2,"y":1,"lo":1,"hi":1},{"S":16,"k":6,"m":"B","x":3,"y":1,"lo":1,"hi":1},{"S":16,"k":6,"m":"B","x":4,"y":1,"lo":1,"hi":1},{"S":16,"k":6,"m":"B","x":5,"y":1,"lo":1,"hi":1},{"S":16,"k":6,"m":"B","x":6,"y":1,"lo":1,"hi":1},{"S":16,"k":6,"m":"B","x":7,"y":1,"lo":1,"hi":1},{"S":16,"k":6,"m":"B","x":8,"y":1,"lo":1,"hi":1},{"S":16,"k":6,"m":"B","x":9,"y":1,"lo":1,"hi":1},{"S":16,"k":6,"m":"B","x":10,"y":0.94,"lo":0.92,"hi":0.96},

{"S":16,"k":8,"m":"C","x":-15,"y":0},{"S":16,"k":8,"m":"C","x":-14,"y":0},{"S":16,"k":8,"m":"C","x":-13,"y":0},{"S":16,"k":8,"m":"C","x":-12,"y":0},{"S":16,"k":8,"m":"C","x":-11,"y":0},{"S":16,"k":8,"m":"C","x":-10,"y":0},{"S":16,"k":8,"m":"C","x":-9,"y":0},{"S":16,"k":8,"m":"C","x":-8,"y":0},{"S":16,"k":8,"m":"C","x":-7,"y":0},{"S":16,"k":8,"m":"C","x":-6,"y":0},{"S":16,"k":8,"m":"C","x":-5,"y":0},{"S":16,"k":8,"m":"C","x":-4,"y":0},{"S":16,"k":8,"m":"C","x":-3,"y":0},{"S":16,"k":8,"m":"C","x":-2,"y":0},{"S":16,"k":8,"m":"C","x":-1,"y":0},{"S":16,"k":8,"m":"C","x":0,"y":0},{"S":16,"k":8,"m":"C","x":1,"y":0},{"S":16,"k":8,"m":"C","x":2,"y":0},{"S":16,"k":8,"m":"C","x":3,"y":0},{"S":16,"k":8,"m":"C","x":4,"y":0},{"S":16,"k":8,"m":"C","x":5,"y":0},{"S":16,"k":8,"m":"C","x":6,"y":0},{"S":16,"k":8,"m":"C","x":7,"y":0},{"S":16,"k":8,"m":"C","x":8,"y":0},{"S":16,"k":8,"m":"C","x":9,"y":0},{"S":16,"k":8,"m":"C","x":10,"y":0},
{"S":16,"k":8,"m":"A","x":-15,"y":0},{"S":16,"k":8,"m":"A","x":-14,"y":0},{"S":16,"k":8,"m":"A","x":-13,"y":0},{"S":16,"k":8,"m":"A","x":-12,"y":0},{"S":16,"k":8,"m":"A","x":-11,"y":0},{"S":16,"k":8,"m":"A","x":-10,"y":0},{"S":16,"k":8,"m":"A","x":-9,"y":0},{"S":16,"k":8,"m":"A","x":-8,"y":0},{"S":16,"k":8,"m":"A","x":-7,"y":0},{"S":16,"k":8,"m":"A","x":-6,"y":0},{"S":16,"k":8,"m":"A","x":-5,"y":0},{"S":16,"k":8,"m":"A","x":-4,"y":0},{"S":16,"k":8,"m":"A","x":-3,"y":0},{"S":16,"k":8,"m":"A","x":-2,"y":0},{"S":16,"k":8,"m":"A","x":-1,"y":0},{"S":16,"k":8,"m":"A","x":0,"y":0},{"S":16,"k":8,"m":"A","x":1,"y":0},{"S":16,"k":8,"m":"A","x":2,"y":0},{"S":16,"k":8,"m":"A","x":3,"y":0},{"S":16,"k":8,"m":"A","x":4,"y":0},{"S":16,"k":8,"m":"A","x":5,"y":0},{"S":16,"k":8,"m":"A","x":6,"y":0},{"S":16,"k":8,"m":"A","x":7,"y":0},{"S":16,"k":8,"m":"A","x":8,"y":0},{"S":16,"k":8,"m":"A","x":9,"y":0},{"S":16,"k":8,"m":"A","x":10,"y":0},
{"S":16,"k":8,"m":"G","x":-15,"y":0},{"S":16,"k":8,"m":"G","x":-14,"y":0},{"S":16,"k":8,"m":"G","x":-13,"y":0},{"S":16,"k":8,"m":"G","x":-12,"y":0},{"S":16,"k":8,"m":"G","x":-11,"y":0},{"S":16,"k":8,"m":"G","x":-10,"y":0},{"S":16,"k":8,"m":"G","x":-9,"y":0},{"S":16,"k":8,"m":"G","x":-8,"y":0},{"S":16,"k":8,"m":"G","x":-7,"y":0},{"S":16,"k":8,"m":"G","x":-6,"y":0.02,"lo":0,"hi":0.048},{"S":16,"k":8,"m":"G","x":-5,"y":0.05,"lo":0.006,"hi":0.094},{"S":16,"k":8,"m":"G","x":-4,"y":0.31,"lo":0.22,"hi":0.40},{"S":16,"k":8,"m":"G","x":-3,"y":0.67,"lo":0.58,"hi":0.76},{"S":16,"k":8,"m":"G","x":-2,"y":0.81,"lo":0.73,"hi":0.89},{"S":16,"k":8,"m":"G","x":-1,"y":0.87,"lo":0.80,"hi":0.94},{"S":16,"k":8,"m":"G","x":0,"y":0.87,"lo":0.80,"hi":0.94},{"S":16,"k":8,"m":"G","x":1,"y":0.77,"lo":0.69,"hi":0.85},{"S":16,"k":8,"m":"G","x":2,"y":0.58,"lo":0.48,"hi":0.68},{"S":16,"k":8,"m":"G","x":3,"y":0.39,"lo":0.29,"hi":0.49},{"S":16,"k":8,"m":"G","x":4,"y":0.15,"lo":0.08,"hi":0.22},{"S":16,"k":8,"m":"G","x":5,"y":0.07,"lo":0.02,"hi":0.12},{"S":16,"k":8,"m":"G","x":6,"y":0.02,"lo":0,"hi":0.048},{"S":16,"k":8,"m":"G","x":7,"y":0},{"S":16,"k":8,"m":"G","x":8,"y":0},{"S":16,"k":8,"m":"G","x":9,"y":0},{"S":16,"k":8,"m":"G","x":10,"y":0},
{"S":16,"k":8,"m":"B","x":-15,"y":0},{"S":16,"k":8,"m":"B","x":-14,"y":0},{"S":16,"k":8,"m":"B","x":-13,"y":0},{"S":16,"k":8,"m":"B","x":-12,"y":0},{"S":16,"k":8,"m":"B","x":-11,"y":0},{"S":16,"k":8,"m":"B","x":-10,"y":0},{"S":16,"k":8,"m":"B","x":-9,"y":0},{"S":16,"k":8,"m":"B","x":-8,"y":0},{"S":16,"k":8,"m":"B","x":-7,"y":0},{"S":16,"k":8,"m":"B","x":-6,"y":0},{"S":16,"k":8,"m":"B","x":-5,"y":0},{"S":16,"k":8,"m":"B","x":-4,"y":0},{"S":16,"k":8,"m":"B","x":-3,"y":0.05,"lo":0.03,"hi":0.07},{"S":16,"k":8,"m":"B","x":-2,"y":0.64,"lo":0.59,"hi":0.69},{"S":16,"k":8,"m":"B","x":-1,"y":0.97,"lo":0.95,"hi":0.99},{"S":16,"k":8,"m":"B","x":0,"y":1,"lo":1,"hi":1},{"S":16,"k":8,"m":"B","x":1,"y":1,"lo":1,"hi":1},{"S":16,"k":8,"m":"B","x":2,"y":1,"lo":1,"hi":1},{"S":16,"k":8,"m":"B","x":3,"y":1,"lo":1,"hi":1},{"S":16,"k":8,"m":"B","x":4,"y":1,"lo":1,"hi":1},{"S":16,"k":8,"m":"B","x":5,"y":1,"lo":1,"hi":1},{"S":16,"k":8,"m":"B","x":6,"y":1,"lo":1,"hi":1},{"S":16,"k":8,"m":"B","x":7,"y":1,"lo":1,"hi":1},{"S":16,"k":8,"m":"B","x":8,"y":1,"lo":1,"hi":1},{"S":16,"k":8,"m":"B","x":9,"y":1,"lo":1,"hi":1},{"S":16,"k":8,"m":"B","x":10,"y":1,"lo":1,"hi":1}
]},
"vconcat": [
 {"width": 1170, "height": 26, "view": {"stroke": null},
  "data": {"values": [{"m":"B","name":"Bayes (ours)"},{"m":"G","name":"GLRT"},{"m":"A","name":"AIC"},{"m":"C","name":"BIC"}]},
  "encoding": {"x": {"field":"m","type":"nominal","bandPosition":0,"scale":{"type":"band","domain":["B","G","A","C"],"range":[175,770],"paddingInner":0,"paddingOuter":0},"axis":null}},
  "layer": [
   {"mark":{"type":"point","shape":"M-1,-0.69H1V0.69H-1Z","size":676,"filled":true,"opacity":0.22,"xOffset":13},"encoding":{"color":{"field":"m","type":"nominal","scale":{"domain":["B","G","A","C"],"range":["#c72a5f","#4b8ff5","#8a3df7","#2d6cc0"]},"legend":null}}},
   {"mark":{"type":"point","shape":"stroke","size":676,"strokeWidth":2.2,"opacity":1,"xOffset":13},"encoding":{"stroke":{"field":"m","type":"nominal","scale":{"domain":["B","G","A","C"],"range":["#c72a5f","#4b8ff5","#8a3df7","#2d6cc0"]},"legend":null}}},
   {"mark":{"type":"point","size":85,"strokeWidth":1.8,"opacity":1,"xOffset":13},"encoding":{"stroke":{"field":"m","type":"nominal","scale":{"domain":["B","G","A","C"],"range":["#c72a5f","#4b8ff5","#8a3df7","#2d6cc0"]},"legend":null},"fill":{"field":"m","type":"nominal","scale":{"domain":["B","G","A","C"],"range":["#c72a5f","transparent","transparent","transparent"]},"legend":null},"shape":{"field":"m","type":"nominal","scale":{"domain":["B","G","A","C"],"range":["circle","square","triangle-up","triangle-down"]},"legend":null}}},
   {"mark":{"type":"text","align":"left","baseline":"middle","fontSize":18,"xOffset":45},"encoding":{"text":{"field":"name"}}}
  ]},
 {"columns": 4, "spacing": {"row": 29, "column": 22}, "bounds": "flush",
  "concat": [
   {"width":276,"height":273,"transform":[{"filter":"datum.S==8&&datum.k==2"}],
    "encoding":{"x":{"field":"x","type":"quantitative","scale":{"domain":[-15,10],"nice":false,"zero":false},"axis":{"labels":false,"ticks":false,"domain":false,"title":null}},
                "y":{"field":"y","type":"quantitative","scale":{"domain":[0,1],"nice":false,"zero":false},"axis":{"values":[0,0.2,0.4,0.6,0.8,1],"format":"~g","title":"Prob. of Correct Detection"}}},
    "layer":[
      {"mark":{"type":"area","opacity":0.22,"clip":true},"encoding":{"y":{"field":"lo","type":"quantitative"},"y2":{"field":"hi"},"color":{"field":"m","type":"nominal","scale":{"domain":["B","G","A","C"],"range":["#c72a5f","#4b8ff5","#8a3df7","#2d6cc0"]},"legend":null}}},
      {"mark":{"type":"line","strokeWidth":2.3,"clip":true},"encoding":{"stroke":{"field":"m","type":"nominal","scale":{"domain":["B","G","A","C"],"range":["#c72a5f","#4b8ff5","#8a3df7","#2d6cc0"]},"legend":null}}},
      {"mark":{"type":"point","size":85,"strokeWidth":1.8,"opacity":1,"clip":true},"encoding":{"stroke":{"field":"m","type":"nominal","scale":{"domain":["B","G","A","C"],"range":["#c72a5f","#4b8ff5","#8a3df7","#2d6cc0"]},"legend":null},"fill":{"field":"m","type":"nominal","scale":{"domain":["B","G","A","C"],"range":["#c72a5f","transparent","transparent","transparent"]},"legend":null},"shape":{"field":"m","type":"nominal","scale":{"domain":["B","G","A","C"],"range":["circle","square","triangle-up","triangle-down"]},"legend":null}}},
     {"transform":[{"filter":"datum.m=='C'&&datum.x==-15"}],"mark":{"type":"rect","fill":"white","opacity":0.8},"encoding":{"x":{"datum":0.8},"x2":{"datum":7.5},"y":{"datum":0.311},"y2":{"datum":0.173}}},
     {"transform":[{"filter":"datum.m=='C'&&datum.x==-15"}],"mark":{"type":"rect","fill":"white","opacity":0.8},"encoding":{"x":{"datum":0.8},"x2":{"datum":7.5},"y":{"datum":0.161},"y2":{"datum":0.02}}},
     {"transform":[{"filter":"datum.m=='C'&&datum.x==-15"}],"mark":{"type":"text","text":"S","fontStyle":"italic","fontSize":26,"align":"left","baseline":"alphabetic"},"encoding":{"x":{"datum":1.67},"y":{"datum":0.212}}},
     {"transform":[{"filter":"datum.m=='C'&&datum.x==-15"}],"mark":{"type":"text","text":"= 8","fontSize":26,"align":"left","baseline":"alphabetic"},"encoding":{"x":{"datum":3.48},"y":{"datum":0.212}}},
     {"transform":[{"filter":"datum.m=='C'&&datum.x==-15"}],"mark":{"type":"text","text":"k","fontStyle":"italic","fontSize":26,"align":"left","baseline":"alphabetic"},"encoding":{"x":{"datum":1.67},"y":{"datum":0.06}}},
     {"transform":[{"filter":"datum.m=='C'&&datum.x==-15"}],"mark":{"type":"text","text":"= 2","fontSize":26,"align":"left","baseline":"alphabetic"},"encoding":{"x":{"datum":3.39},"y":{"datum":0.06}}}
    ]},
   {"width":276,"height":273,"transform":[{"filter":"datum.S==8&&datum.k==4"}],
    "encoding":{"x":{"field":"x","type":"quantitative","scale":{"domain":[-15,10],"nice":false,"zero":false},"axis":{"labels":false,"ticks":false,"domain":false,"title":null}},
                "y":{"field":"y","type":"quantitative","scale":{"domain":[0,1],"nice":false,"zero":false},"axis":{"labels":false,"ticks":false,"domain":false,"title":null}}},
    "layer":[
      {"mark":{"type":"area","opacity":0.22,"clip":true},"encoding":{"y":{"field":"lo","type":"quantitative"},"y2":{"field":"hi"},"color":{"field":"m","type":"nominal","scale":{"domain":["B","G","A","C"],"range":["#c72a5f","#4b8ff5","#8a3df7","#2d6cc0"]},"legend":null}}},
      {"mark":{"type":"line","strokeWidth":2.3,"clip":true},"encoding":{"stroke":{"field":"m","type":"nominal","scale":{"domain":["B","G","A","C"],"range":["#c72a5f","#4b8ff5","#8a3df7","#2d6cc0"]},"legend":null}}},
      {"mark":{"type":"point","size":85,"strokeWidth":1.8,"opacity":1,"clip":true},"encoding":{"stroke":{"field":"m","type":"nominal","scale":{"domain":["B","G","A","C"],"range":["#c72a5f","#4b8ff5","#8a3df7","#2d6cc0"]},"legend":null},"fill":{"field":"m","type":"nominal","scale":{"domain":["B","G","A","C"],"range":["#c72a5f","transparent","transparent","transparent"]},"legend":null},"shape":{"field":"m","type":"nominal","scale":{"domain":["B","G","A","C"],"range":["circle","square","triangle-up","triangle-down"]},"legend":null}}},
     {"transform":[{"filter":"datum.m=='C'&&datum.x==-15"}],"mark":{"type":"rect","fill":"white","opacity":0.8},"encoding":{"x":{"datum":0.8},"x2":{"datum":7.5},"y":{"datum":0.311},"y2":{"datum":0.173}}},
     {"transform":[{"filter":"datum.m=='C'&&datum.x==-15"}],"mark":{"type":"rect","fill":"white","opacity":0.8},"encoding":{"x":{"datum":0.8},"x2":{"datum":7.5},"y":{"datum":0.161},"y2":{"datum":0.02}}},
     {"transform":[{"filter":"datum.m=='C'&&datum.x==-15"}],"mark":{"type":"text","text":"S","fontStyle":"italic","fontSize":26,"align":"left","baseline":"alphabetic"},"encoding":{"x":{"datum":1.67},"y":{"datum":0.212}}},
     {"transform":[{"filter":"datum.m=='C'&&datum.x==-15"}],"mark":{"type":"text","text":"= 8","fontSize":26,"align":"left","baseline":"alphabetic"},"encoding":{"x":{"datum":3.48},"y":{"datum":0.212}}},
     {"transform":[{"filter":"datum.m=='C'&&datum.x==-15"}],"mark":{"type":"text","text":"k","fontStyle":"italic","fontSize":26,"align":"left","baseline":"alphabetic"},"encoding":{"x":{"datum":1.67},"y":{"datum":0.06}}},
     {"transform":[{"filter":"datum.m=='C'&&datum.x==-15"}],"mark":{"type":"text","text":"= 4","fontSize":26,"align":"left","baseline":"alphabetic"},"encoding":{"x":{"datum":3.39},"y":{"datum":0.06}}}
    ]},
   {"width":276,"height":273,"transform":[{"filter":"datum.S==8&&datum.k==6"}],
    "encoding":{"x":{"field":"x","type":"quantitative","scale":{"domain":[-15,10],"nice":false,"zero":false},"axis":{"labels":false,"ticks":false,"domain":false,"title":null}},
                "y":{"field":"y","type":"quantitative","scale":{"domain":[0,1],"nice":false,"zero":false},"axis":{"labels":false,"ticks":false,"domain":false,"title":null}}},
    "layer":[
      {"mark":{"type":"area","opacity":0.22,"clip":true},"encoding":{"y":{"field":"lo","type":"quantitative"},"y2":{"field":"hi"},"color":{"field":"m","type":"nominal","scale":{"domain":["B","G","A","C"],"range":["#c72a5f","#4b8ff5","#8a3df7","#2d6cc0"]},"legend":null}}},
      {"mark":{"type":"line","strokeWidth":2.3,"clip":true},"encoding":{"stroke":{"field":"m","type":"nominal","scale":{"domain":["B","G","A","C"],"range":["#c72a5f","#4b8ff5","#8a3df7","#2d6cc0"]},"legend":null}}},
      {"mark":{"type":"point","size":85,"strokeWidth":1.8,"opacity":1,"clip":true},"encoding":{"stroke":{"field":"m","type":"nominal","scale":{"domain":["B","G","A","C"],"range":["#c72a5f","#4b8ff5","#8a3df7","#2d6cc0"]},"legend":null},"fill":{"field":"m","type":"nominal","scale":{"domain":["B","G","A","C"],"range":["#c72a5f","transparent","transparent","transparent"]},"legend":null},"shape":{"field":"m","type":"nominal","scale":{"domain":["B","G","A","C"],"range":["circle","square","triangle-up","triangle-down"]},"legend":null}}},
     {"transform":[{"filter":"datum.m=='C'&&datum.x==-15"}],"mark":{"type":"rect","fill":"white","opacity":0.8},"encoding":{"x":{"datum":0.8},"x2":{"datum":7.5},"y":{"datum":0.311},"y2":{"datum":0.173}}},
     {"transform":[{"filter":"datum.m=='C'&&datum.x==-15"}],"mark":{"type":"rect","fill":"white","opacity":0.8},"encoding":{"x":{"datum":0.8},"x2":{"datum":7.5},"y":{"datum":0.161},"y2":{"datum":0.02}}},
     {"transform":[{"filter":"datum.m=='C'&&datum.x==-15"}],"mark":{"type":"text","text":"S","fontStyle":"italic","fontSize":26,"align":"left","baseline":"alphabetic"},"encoding":{"x":{"datum":1.67},"y":{"datum":0.212}}},
     {"transform":[{"filter":"datum.m=='C'&&datum.x==-15"}],"mark":{"type":"text","text":"= 8","fontSize":26,"align":"left","baseline":"alphabetic"},"encoding":{"x":{"datum":3.48},"y":{"datum":0.212}}},
     {"transform":[{"filter":"datum.m=='C'&&datum.x==-15"}],"mark":{"type":"text","text":"k","fontStyle":"italic","fontSize":26,"align":"left","baseline":"alphabetic"},"encoding":{"x":{"datum":1.67},"y":{"datum":0.06}}},
     {"transform":[{"filter":"datum.m=='C'&&datum.x==-15"}],"mark":{"type":"text","text":"= 6","fontSize":26,"align":"left","baseline":"alphabetic"},"encoding":{"x":{"datum":3.39},"y":{"datum":0.06}}}
    ]},
   {"width":276,"height":273,"transform":[{"filter":"datum.S==8&&datum.k==8"}],
    "encoding":{"x":{"field":"x","type":"quantitative","scale":{"domain":[-15,10],"nice":false,"zero":false},"axis":{"labels":false,"ticks":false,"domain":false,"title":null}},
                "y":{"field":"y","type":"quantitative","scale":{"domain":[0,1],"nice":false,"zero":false},"axis":{"labels":false,"ticks":false,"domain":false,"title":null}}},
    "layer":[
      {"mark":{"type":"area","opacity":0.22,"clip":true},"encoding":{"y":{"field":"lo","type":"quantitative"},"y2":{"field":"hi"},"color":{"field":"m","type":"nominal","scale":{"domain":["B","G","A","C"],"range":["#c72a5f","#4b8ff5","#8a3df7","#2d6cc0"]},"legend":null}}},
      {"mark":{"type":"line","strokeWidth":2.3,"clip":true},"encoding":{"stroke":{"field":"m","type":"nominal","scale":{"domain":["B","G","A","C"],"range":["#c72a5f","#4b8ff5","#8a3df7","#2d6cc0"]},"legend":null}}},
      {"mark":{"type":"point","size":85,"strokeWidth":1.8,"opacity":1,"clip":true},"encoding":{"stroke":{"field":"m","type":"nominal","scale":{"domain":["B","G","A","C"],"range":["#c72a5f","#4b8ff5","#8a3df7","#2d6cc0"]},"legend":null},"fill":{"field":"m","type":"nominal","scale":{"domain":["B","G","A","C"],"range":["#c72a5f","transparent","transparent","transparent"]},"legend":null},"shape":{"field":"m","type":"nominal","scale":{"domain":["B","G","A","C"],"range":["circle","square","triangle-up","triangle-down"]},"legend":null}}},
     {"transform":[{"filter":"datum.m=='C'&&datum.x==-15"}],"mark":{"type":"rect","fill":"white","opacity":0.8},"encoding":{"x":{"datum":0.8},"x2":{"datum":7.5},"y":{"datum":0.311},"y2":{"datum":0.173}}},
     {"transform":[{"filter":"datum.m=='C'&&datum.x==-15"}],"mark":{"type":"rect","fill":"white","opacity":0.8},"encoding":{"x":{"datum":0.8},"x2":{"datum":7.5},"y":{"datum":0.161},"y2":{"datum":0.02}}},
     {"transform":[{"filter":"datum.m=='C'&&datum.x==-15"}],"mark":{"type":"text","text":"S","fontStyle":"italic","fontSize":26,"align":"left","baseline":"alphabetic"},"encoding":{"x":{"datum":1.67},"y":{"datum":0.212}}},
     {"transform":[{"filter":"datum.m=='C'&&datum.x==-15"}],"mark":{"type":"text","text":"= 8","fontSize":26,"align":"left","baseline":"alphabetic"},"encoding":{"x":{"datum":3.48},"y":{"datum":0.212}}},
     {"transform":[{"filter":"datum.m=='C'&&datum.x==-15"}],"mark":{"type":"text","text":"k","fontStyle":"italic","fontSize":26,"align":"left","baseline":"alphabetic"},"encoding":{"x":{"datum":1.67},"y":{"datum":0.06}}},
     {"transform":[{"filter":"datum.m=='C'&&datum.x==-15"}],"mark":{"type":"text","text":"= 8","fontSize":26,"align":"left","baseline":"alphabetic"},"encoding":{"x":{"datum":3.39},"y":{"datum":0.06}}}
    ]},
   {"width":276,"height":273,"transform":[{"filter":"datum.S==16&&datum.k==2"}],
    "encoding":{"x":{"field":"x","type":"quantitative","scale":{"domain":[-15,10],"nice":false,"zero":false},"axis":{"values":[-15,-10,-5,0,5,10],"title":"SNR"}},
                "y":{"field":"y","type":"quantitative","scale":{"domain":[0,1],"nice":false,"zero":false},"axis":{"values":[0,0.2,0.4,0.6,0.8,1],"format":"~g","title":null}}},
    "layer":[
      {"mark":{"type":"area","opacity":0.22,"clip":true},"encoding":{"y":{"field":"lo","type":"quantitative"},"y2":{"field":"hi"},"color":{"field":"m","type":"nominal","scale":{"domain":["B","G","A","C"],"range":["#c72a5f","#4b8ff5","#8a3df7","#2d6cc0"]},"legend":null}}},
      {"mark":{"type":"line","strokeWidth":2.3,"clip":true},"encoding":{"stroke":{"field":"m","type":"nominal","scale":{"domain":["B","G","A","C"],"range":["#c72a5f","#4b8ff5","#8a3df7","#2d6cc0"]},"legend":null}}},
      {"mark":{"type":"point","size":85,"strokeWidth":1.8,"opacity":1,"clip":true},"encoding":{"stroke":{"field":"m","type":"nominal","scale":{"domain":["B","G","A","C"],"range":["#c72a5f","#4b8ff5","#8a3df7","#2d6cc0"]},"legend":null},"fill":{"field":"m","type":"nominal","scale":{"domain":["B","G","A","C"],"range":["#c72a5f","transparent","transparent","transparent"]},"legend":null},"shape":{"field":"m","type":"nominal","scale":{"domain":["B","G","A","C"],"range":["circle","square","triangle-up","triangle-down"]},"legend":null}}},
     {"transform":[{"filter":"datum.m=='C'&&datum.x==-15"}],"mark":{"type":"rect","fill":"white","opacity":0.8},"encoding":{"x":{"datum":0.8},"x2":{"datum":8.7},"y":{"datum":0.311},"y2":{"datum":0.173}}},
     {"transform":[{"filter":"datum.m=='C'&&datum.x==-15"}],"mark":{"type":"rect","fill":"white","opacity":0.8},"encoding":{"x":{"datum":0.8},"x2":{"datum":7.5},"y":{"datum":0.161},"y2":{"datum":0.02}}},
     {"transform":[{"filter":"datum.m=='C'&&datum.x==-15"}],"mark":{"type":"text","text":"S","fontStyle":"italic","fontSize":26,"align":"left","baseline":"alphabetic"},"encoding":{"x":{"datum":1.67},"y":{"datum":0.212}}},
     {"transform":[{"filter":"datum.m=='C'&&datum.x==-15"}],"mark":{"type":"text","text":"= 16","fontSize":26,"align":"left","baseline":"alphabetic"},"encoding":{"x":{"datum":3.48},"y":{"datum":0.212}}},
     {"transform":[{"filter":"datum.m=='C'&&datum.x==-15"}],"mark":{"type":"text","text":"k","fontStyle":"italic","fontSize":26,"align":"left","baseline":"alphabetic"},"encoding":{"x":{"datum":1.67},"y":{"datum":0.06}}},
     {"transform":[{"filter":"datum.m=='C'&&datum.x==-15"}],"mark":{"type":"text","text":"= 2","fontSize":26,"align":"left","baseline":"alphabetic"},"encoding":{"x":{"datum":3.39},"y":{"datum":0.06}}}
    ]},
   {"width":276,"height":273,"transform":[{"filter":"datum.S==16&&datum.k==4"}],
    "encoding":{"x":{"field":"x","type":"quantitative","scale":{"domain":[-15,10],"nice":false,"zero":false},"axis":{"values":[-15,-10,-5,0,5,10],"title":null}},
                "y":{"field":"y","type":"quantitative","scale":{"domain":[0,1],"nice":false,"zero":false},"axis":{"labels":false,"ticks":false,"domain":false,"title":null}}},
    "layer":[
      {"mark":{"type":"area","opacity":0.22,"clip":true},"encoding":{"y":{"field":"lo","type":"quantitative"},"y2":{"field":"hi"},"color":{"field":"m","type":"nominal","scale":{"domain":["B","G","A","C"],"range":["#c72a5f","#4b8ff5","#8a3df7","#2d6cc0"]},"legend":null}}},
      {"mark":{"type":"line","strokeWidth":2.3,"clip":true},"encoding":{"stroke":{"field":"m","type":"nominal","scale":{"domain":["B","G","A","C"],"range":["#c72a5f","#4b8ff5","#8a3df7","#2d6cc0"]},"legend":null}}},
      {"mark":{"type":"point","size":85,"strokeWidth":1.8,"opacity":1,"clip":true},"encoding":{"stroke":{"field":"m","type":"nominal","scale":{"domain":["B","G","A","C"],"range":["#c72a5f","#4b8ff5","#8a3df7","#2d6cc0"]},"legend":null},"fill":{"field":"m","type":"nominal","scale":{"domain":["B","G","A","C"],"range":["#c72a5f","transparent","transparent","transparent"]},"legend":null},"shape":{"field":"m","type":"nominal","scale":{"domain":["B","G","A","C"],"range":["circle","square","triangle-up","triangle-down"]},"legend":null}}},
     {"transform":[{"filter":"datum.m=='C'&&datum.x==-15"}],"mark":{"type":"rect","fill":"white","opacity":0.8},"encoding":{"x":{"datum":0.8},"x2":{"datum":8.7},"y":{"datum":0.311},"y2":{"datum":0.173}}},
     {"transform":[{"filter":"datum.m=='C'&&datum.x==-15"}],"mark":{"type":"rect","fill":"white","opacity":0.8},"encoding":{"x":{"datum":0.8},"x2":{"datum":7.5},"y":{"datum":0.161},"y2":{"datum":0.02}}},
     {"transform":[{"filter":"datum.m=='C'&&datum.x==-15"}],"mark":{"type":"text","text":"S","fontStyle":"italic","fontSize":26,"align":"left","baseline":"alphabetic"},"encoding":{"x":{"datum":1.67},"y":{"datum":0.212}}},
     {"transform":[{"filter":"datum.m=='C'&&datum.x==-15"}],"mark":{"type":"text","text":"= 16","fontSize":26,"align":"left","baseline":"alphabetic"},"encoding":{"x":{"datum":3.48},"y":{"datum":0.212}}},
     {"transform":[{"filter":"datum.m=='C'&&datum.x==-15"}],"mark":{"type":"text","text":"k","fontStyle":"italic","fontSize":26,"align":"left","baseline":"alphabetic"},"encoding":{"x":{"datum":1.67},"y":{"datum":0.06}}},
     {"transform":[{"filter":"datum.m=='C'&&datum.x==-15"}],"mark":{"type":"text","text":"= 4","fontSize":26,"align":"left","baseline":"alphabetic"},"encoding":{"x":{"datum":3.39},"y":{"datum":0.06}}}
    ]},
   {"width":276,"height":273,"transform":[{"filter":"datum.S==16&&datum.k==6"}],
    "encoding":{"x":{"field":"x","type":"quantitative","scale":{"domain":[-15,10],"nice":false,"zero":false},"axis":{"values":[-15,-10,-5,0,5,10],"title":null}},
                "y":{"field":"y","type":"quantitative","scale":{"domain":[0,1],"nice":false,"zero":false},"axis":{"labels":false,"ticks":false,"domain":false,"title":null}}},
    "layer":[
      {"mark":{"type":"area","opacity":0.22,"clip":true},"encoding":{"y":{"field":"lo","type":"quantitative"},"y2":{"field":"hi"},"color":{"field":"m","type":"nominal","scale":{"domain":["B","G","A","C"],"range":["#c72a5f","#4b8ff5","#8a3df7","#2d6cc0"]},"legend":null}}},
      {"mark":{"type":"line","strokeWidth":2.3,"clip":true},"encoding":{"stroke":{"field":"m","type":"nominal","scale":{"domain":["B","G","A","C"],"range":["#c72a5f","#4b8ff5","#8a3df7","#2d6cc0"]},"legend":null}}},
      {"mark":{"type":"point","size":85,"strokeWidth":1.8,"opacity":1,"clip":true},"encoding":{"stroke":{"field":"m","type":"nominal","scale":{"domain":["B","G","A","C"],"range":["#c72a5f","#4b8ff5","#8a3df7","#2d6cc0"]},"legend":null},"fill":{"field":"m","type":"nominal","scale":{"domain":["B","G","A","C"],"range":["#c72a5f","transparent","transparent","transparent"]},"legend":null},"shape":{"field":"m","type":"nominal","scale":{"domain":["B","G","A","C"],"range":["circle","square","triangle-up","triangle-down"]},"legend":null}}},
     {"transform":[{"filter":"datum.m=='C'&&datum.x==-15"}],"mark":{"type":"rect","fill":"white","opacity":0.8},"encoding":{"x":{"datum":0.8},"x2":{"datum":8.7},"y":{"datum":0.311},"y2":{"datum":0.173}}},
     {"transform":[{"filter":"datum.m=='C'&&datum.x==-15"}],"mark":{"type":"rect","fill":"white","opacity":0.8},"encoding":{"x":{"datum":0.8},"x2":{"datum":7.5},"y":{"datum":0.161},"y2":{"datum":0.02}}},
     {"transform":[{"filter":"datum.m=='C'&&datum.x==-15"}],"mark":{"type":"text","text":"S","fontStyle":"italic","fontSize":26,"align":"left","baseline":"alphabetic"},"encoding":{"x":{"datum":1.67},"y":{"datum":0.212}}},
     {"transform":[{"filter":"datum.m=='C'&&datum.x==-15"}],"mark":{"type":"text","text":"= 16","fontSize":26,"align":"left","baseline":"alphabetic"},"encoding":{"x":{"datum":3.48},"y":{"datum":0.212}}},
     {"transform":[{"filter":"datum.m=='C'&&datum.x==-15"}],"mark":{"type":"text","text":"k","fontStyle":"italic","fontSize":26,"align":"left","baseline":"alphabetic"},"encoding":{"x":{"datum":1.67},"y":{"datum":0.06}}},
     {"transform":[{"filter":"datum.m=='C'&&datum.x==-15"}],"mark":{"type":"text","text":"= 6","fontSize":26,"align":"left","baseline":"alphabetic"},"encoding":{"x":{"datum":3.39},"y":{"datum":0.06}}}
    ]},
   {"width":276,"height":273,"transform":[{"filter":"datum.S==16&&datum.k==8"}],
    "encoding":{"x":{"field":"x","type":"quantitative","scale":{"domain":[-15,10],"nice":false,"zero":false},"axis":{"values":[-15,-10,-5,0,5,10],"title":null}},
                "y":{"field":"y","type":"quantitative","scale":{"domain":[0,1],"nice":false,"zero":false},"axis":{"labels":false,"ticks":false,"domain":false,"title":null}}},
    "layer":[
      {"mark":{"type":"area","opacity":0.22,"clip":true},"encoding":{"y":{"field":"lo","type":"quantitative"},"y2":{"field":"hi"},"color":{"field":"m","type":"nominal","scale":{"domain":["B","G","A","C"],"range":["#c72a5f","#4b8ff5","#8a3df7","#2d6cc0"]},"legend":null}}},
      {"mark":{"type":"line","strokeWidth":2.3,"clip":true},"encoding":{"stroke":{"field":"m","type":"nominal","scale":{"domain":["B","G","A","C"],"range":["#c72a5f","#4b8ff5","#8a3df7","#2d6cc0"]},"legend":null}}},
      {"mark":{"type":"point","size":85,"strokeWidth":1.8,"opacity":1,"clip":true},"encoding":{"stroke":{"field":"m","type":"nominal","scale":{"domain":["B","G","A","C"],"range":["#c72a5f","#4b8ff5","#8a3df7","#2d6cc0"]},"legend":null},"fill":{"field":"m","type":"nominal","scale":{"domain":["B","G","A","C"],"range":["#c72a5f","transparent","transparent","transparent"]},"legend":null},"shape":{"field":"m","type":"nominal","scale":{"domain":["B","G","A","C"],"range":["circle","square","triangle-up","triangle-down"]},"legend":null}}},
     {"transform":[{"filter":"datum.m=='C'&&datum.x==-15"}],"mark":{"type":"rect","fill":"white","opacity":0.8},"encoding":{"x":{"datum":0.8},"x2":{"datum":8.7},"y":{"datum":0.311},"y2":{"datum":0.173}}},
     {"transform":[{"filter":"datum.m=='C'&&datum.x==-15"}],"mark":{"type":"rect","fill":"white","opacity":0.8},"encoding":{"x":{"datum":0.8},"x2":{"datum":7.5},"y":{"datum":0.161},"y2":{"datum":0.02}}},
     {"transform":[{"filter":"datum.m=='C'&&datum.x==-15"}],"mark":{"type":"text","text":"S","fontStyle":"italic","fontSize":26,"align":"left","baseline":"alphabetic"},"encoding":{"x":{"datum":1.67},"y":{"datum":0.212}}},
     {"transform":[{"filter":"datum.m=='C'&&datum.x==-15"}],"mark":{"type":"text","text":"= 16","fontSize":26,"align":"left","baseline":"alphabetic"},"encoding":{"x":{"datum":3.48},"y":{"datum":0.212}}},
     {"transform":[{"filter":"datum.m=='C'&&datum.x==-15"}],"mark":{"type":"text","text":"k","fontStyle":"italic","fontSize":26,"align":"left","baseline":"alphabetic"},"encoding":{"x":{"datum":1.67},"y":{"datum":0.06}}},
     {"transform":[{"filter":"datum.m=='C'&&datum.x==-15"}],"mark":{"type":"text","text":"= 8","fontSize":26,"align":"left","baseline":"alphabetic"},"encoding":{"x":{"datum":3.39},"y":{"datum":0.06}}}
    ]}
  ]}
]
}
